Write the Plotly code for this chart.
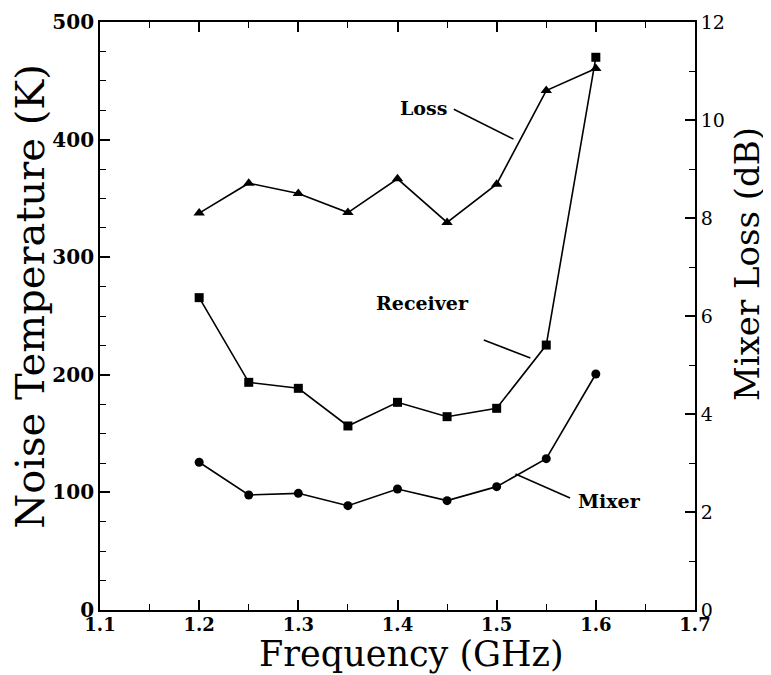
import plotly.graph_objects as go

freq = [1.20, 1.25, 1.30, 1.35, 1.40, 1.45, 1.50, 1.55, 1.60]
mixer_temp = [125.6, 97.8, 99.2, 88.7, 102.9, 93.0, 104.9, 128.7, 200.7]
receiver_temp = [265.6, 193.6, 188.5, 156.5, 176.6, 164.4, 171.5, 225.3, 470.0]
mixer_loss_db = [8.10, 8.71, 8.50, 8.11, 8.80, 7.91, 8.69, 10.60, 11.05]

SERIF = "DejaVu Serif"
BLACK = "black"

fig = go.Figure()
fig.add_trace(go.Scatter(x=freq, y=mixer_temp, mode="lines+markers",
                         line=dict(color=BLACK, width=1.6),
                         marker=dict(symbol="circle", size=9, color=BLACK),
                         showlegend=False, cliponaxis=False))
fig.add_trace(go.Scatter(x=freq, y=receiver_temp, mode="lines+markers",
                         line=dict(color=BLACK, width=1.6),
                         marker=dict(symbol="square", size=9, color=BLACK),
                         showlegend=False, cliponaxis=False))
fig.add_trace(go.Scatter(x=freq, y=mixer_loss_db, mode="lines+markers", yaxis="y2",
                         line=dict(color=BLACK, width=1.6),
                         marker=dict(symbol="triangle-up", size=10, color=BLACK),
                         showlegend=False, cliponaxis=False))

axis_common = dict(showline=True, linecolor=BLACK, linewidth=1.8, showgrid=False,
                   zeroline=False, ticks="inside", tickcolor=BLACK, tickwidth=1.5,
                   automargin=False)

fig.update_layout(
    width=763, height=667,
    margin=dict(l=92, r=76, t=14, b=65),
    plot_bgcolor="white", paper_bgcolor="white",
    xaxis=dict(**axis_common, range=[1.1, 1.7], dtick=0.1, tick0=1.1, ticklen=10,
               tickformat=".1f", mirror="ticks", ticklabelstandoff=-3,
               minor=dict(dtick=0.05, ticks="inside", ticklen=6, tickcolor=BLACK, tickwidth=1.2),
               tickfont=dict(family=SERIF, size=18, color=BLACK, weight="bold")),
    yaxis=dict(**axis_common, range=[0, 500], dtick=100, ticklen=10,
               minor=dict(dtick=25, ticks="inside", ticklen=6, tickcolor=BLACK, tickwidth=1.2),
               tickfont=dict(family=SERIF, size=20, color=BLACK, weight="bold")),
    yaxis2=dict(**axis_common, range=[0, 12], dtick=2, ticklen=10, side="right",
                overlaying="y",
                minor=dict(dtick=1, ticks="inside", ticklen=6, tickcolor=BLACK, tickwidth=1.2),
                tickfont=dict(family=SERIF, size=19, color=BLACK)),
)

# axis titles
fig.add_annotation(text="Noise Temperature (K)", xref="paper", yref="paper",
                   x=-0.118, y=0.534, xanchor="center", yanchor="middle",
                   textangle=-90, showarrow=False,
                   font=dict(family=SERIF, size=40, color=BLACK))
fig.add_annotation(text="Mixer Loss (dB)", xref="paper", yref="paper",
                   x=1.124, y=0.588, xanchor="right", yanchor="middle",
                   textangle=-90, showarrow=False,
                   font=dict(family=SERIF, size=34, color=BLACK))
fig.add_annotation(text="Frequency (GHz)", xref="paper", yref="paper",
                   x=0.523, y=-0.112, xanchor="center", yanchor="bottom", showarrow=False,
                   font=dict(family=SERIF, size=35, color=BLACK))

# curve labels and leader lines
lab_font = dict(family=SERIF, size=19, color=BLACK, weight="bold")
fig.add_annotation(text="Loss", x=1.452, y=10.24, xref="x", yref="y2",
                   xanchor="right", yanchor="middle", showarrow=False, font=lab_font)
fig.add_shape(type="line", xref="x", yref="y2", x0=1.4568, y0=10.22, x1=1.517, y1=9.61,
              line=dict(color=BLACK, width=1.5))
fig.add_annotation(text="Receiver", x=1.474, y=261, xref="x", yref="y",
                   xanchor="right", yanchor="middle", showarrow=False, font=lab_font)
fig.add_shape(type="line", xref="x", yref="y", x0=1.487, y0=229.6, x1=1.534, y1=214.3,
              line=dict(color=BLACK, width=1.5))
fig.add_annotation(text="Mixer", x=1.580, y=92.5, xref="x", yref="y",
                   xanchor="left", yanchor="middle", showarrow=False, font=lab_font)
fig.add_shape(type="line", xref="x", yref="y", x0=1.574, y0=95.2, x1=1.519, y1=115.6,
              line=dict(color=BLACK, width=1.5))

fig.write_html("out.html")
